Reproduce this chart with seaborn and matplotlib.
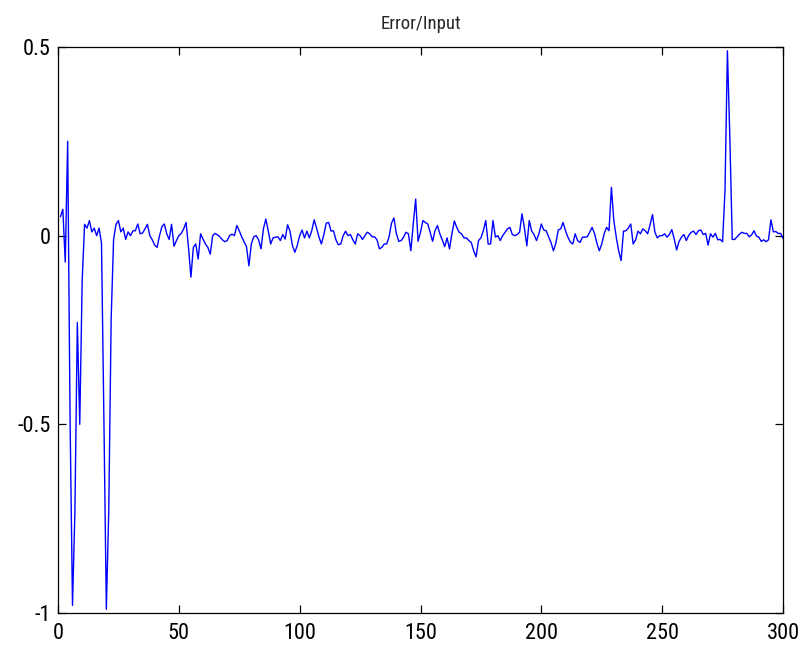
import numpy as np
import pandas as pd
import matplotlib
matplotlib.use("Agg")
import matplotlib.pyplot as plt
import seaborn as sns

# Ratio of error to input, one value per sample (samples 1..300)
error_ratio = [
    0.05, 0.07, -0.07, 0.25, -0.49, -0.98, -0.73, -0.23, -0.50, -0.12,
    0.03, 0.02, 0.04, 0.01, 0.02, 0.00, 0.02, -0.02, -0.49, -0.99,
    -0.73, -0.22, -0.01, 0.03, 0.04, 0.01, 0.02, -0.01, 0.01, 0.00,
    0.013, 0.013, 0.031, 0.005, 0.007, 0.018, 0.030, 0.000, -0.011, -0.025,
    -0.031, 0.000, 0.024, 0.031, 0.005, -0.010, 0.030, -0.028, -0.013, 0.000,
    0.006, 0.018, 0.035, -0.031, -0.110, -0.031, -0.022, -0.062, 0.005, -0.009,
    -0.022, -0.031, -0.049, 0.000, 0.006, 0.002, -0.003, -0.011, -0.016, -0.013,
    0.000, 0.004, 0.000, 0.027, 0.013, -0.003, -0.016, -0.029, -0.080, -0.022,
    -0.003, 0.000, -0.011, -0.035, 0.018, 0.044, 0.013, -0.022, -0.006, -0.004,
    -0.003, -0.013, 0.003, -0.009, 0.029, 0.012, -0.026, -0.044, -0.026, 0.000,
    0.015, -0.006, 0.012, -0.006, 0.013, 0.042, 0.020, -0.004, -0.022, 0.003,
    0.033, 0.035, 0.012, 0.013, -0.011, -0.024, -0.022, 0.000, 0.012, 0.000,
    0.003, -0.011, -0.022, 0.005, 0.000, -0.010, 0.000, 0.009, 0.005, -0.003,
    -0.003, -0.011, -0.035, -0.031, -0.022, -0.022, -0.003, 0.033, 0.047, 0.006,
    -0.015, -0.013, -0.004, 0.009, 0.005, -0.040, 0.031, 0.097, -0.015, 0.009,
    0.040, 0.035, 0.031, 0.009, -0.015, 0.013, 0.027, 0.005, -0.011, -0.029,
    -0.006, -0.035, 0.005, 0.039, 0.022, 0.009, 0.005, -0.006, -0.006, -0.013,
    -0.018, -0.040, -0.056, -0.013, -0.006, 0.013, 0.040, -0.022, -0.022, 0.040,
    -0.004, 0.000, -0.013, 0.000, 0.009, 0.018, 0.022, 0.003, 0.000, 0.003,
    0.009, 0.058, 0.020, -0.027, 0.040, 0.012, 0.003, -0.013, 0.005, 0.031,
    0.015, 0.013, -0.003, -0.018, -0.040, -0.020, 0.015, 0.018, 0.035, 0.013,
    -0.004, -0.017, -0.022, 0.005, -0.013, -0.018, -0.004, -0.004, -0.003, 0.009,
    0.022, 0.006, -0.020, -0.040, -0.022, 0.005, 0.022, 0.013, 0.128, 0.040,
    -0.004, -0.040, -0.066, 0.012, 0.013, 0.020, 0.031, -0.022, -0.011, 0.012,
    0.005, 0.018, 0.013, 0.005, 0.029, 0.056, 0.009, -0.006, 0.000, 0.000,
    0.005, -0.004, 0.003, 0.016, -0.009, -0.038, -0.015, -0.004, 0.003, -0.013,
    0.001, 0.009, 0.012, 0.003, 0.013, 0.015, 0.003, 0.006, -0.025, 0.005,
    -0.004, 0.006, -0.011, -0.010, -0.016, 0.120, 0.490, 0.260, -0.010, -0.010,
    -0.003, 0.004, 0.009, 0.006, 0.006, -0.003, 0.002, 0.013, -0.001, -0.004,
    -0.015, -0.011, -0.016, -0.011, 0.042, 0.010, 0.011, 0.006, 0.006, -0.007,
]
sample_index = np.arange(1, len(error_ratio) + 1)

x_ticks = [0, 50, 100, 150, 200, 250, 300]
y_ticks = [-1, -0.5, 0, 0.5]
y_tick_labels = ["-1", "-0.5", "0", "0.5"]
title_text = "Error/Input"

df = pd.DataFrame({"sample": sample_index, "ratio": error_ratio})

sns.set_style("ticks")
plt.rcParams["font.family"] = ["Roboto Condensed", "Liberation Sans Narrow",
                               "Liberation Sans", "DejaVu Sans"]
plt.rcParams["axes.unicode_minus"] = False

fig = plt.figure(figsize=(8.01, 6.5), dpi=100, facecolor="white")
ax = fig.add_axes([58 / 801, 1 - 613 / 650, (783 - 58) / 801, (613 - 47) / 650])
ax.set_facecolor("white")

sns.lineplot(data=df, x="sample", y="ratio", ax=ax, color="#0000FF",
             linewidth=1.0, estimator=None, sort=False)

ax.set_xlim(0, 300)
ax.set_ylim(-1, 0.5)
ax.set_xticks(x_ticks)
ax.set_xticklabels([str(t) for t in x_ticks])
ax.set_yticks(y_ticks)
ax.set_yticklabels(y_tick_labels)
ax.set_xlabel("")
ax.set_ylabel("")
ax.set_title(title_text, fontsize=13.5, pad=13)

for side in ["top", "right", "bottom", "left"]:
    ax.spines[side].set_visible(True)
    ax.spines[side].set_color("black")
    ax.spines[side].set_linewidth(0.9)
ax.tick_params(direction="in", length=6, width=0.9, top=True, right=True,
               labelsize=16, colors="black")
ax.tick_params(axis="x", pad=7)
ax.tick_params(axis="y", pad=5)

fig.savefig("out.png", dpi=100, facecolor="white")
